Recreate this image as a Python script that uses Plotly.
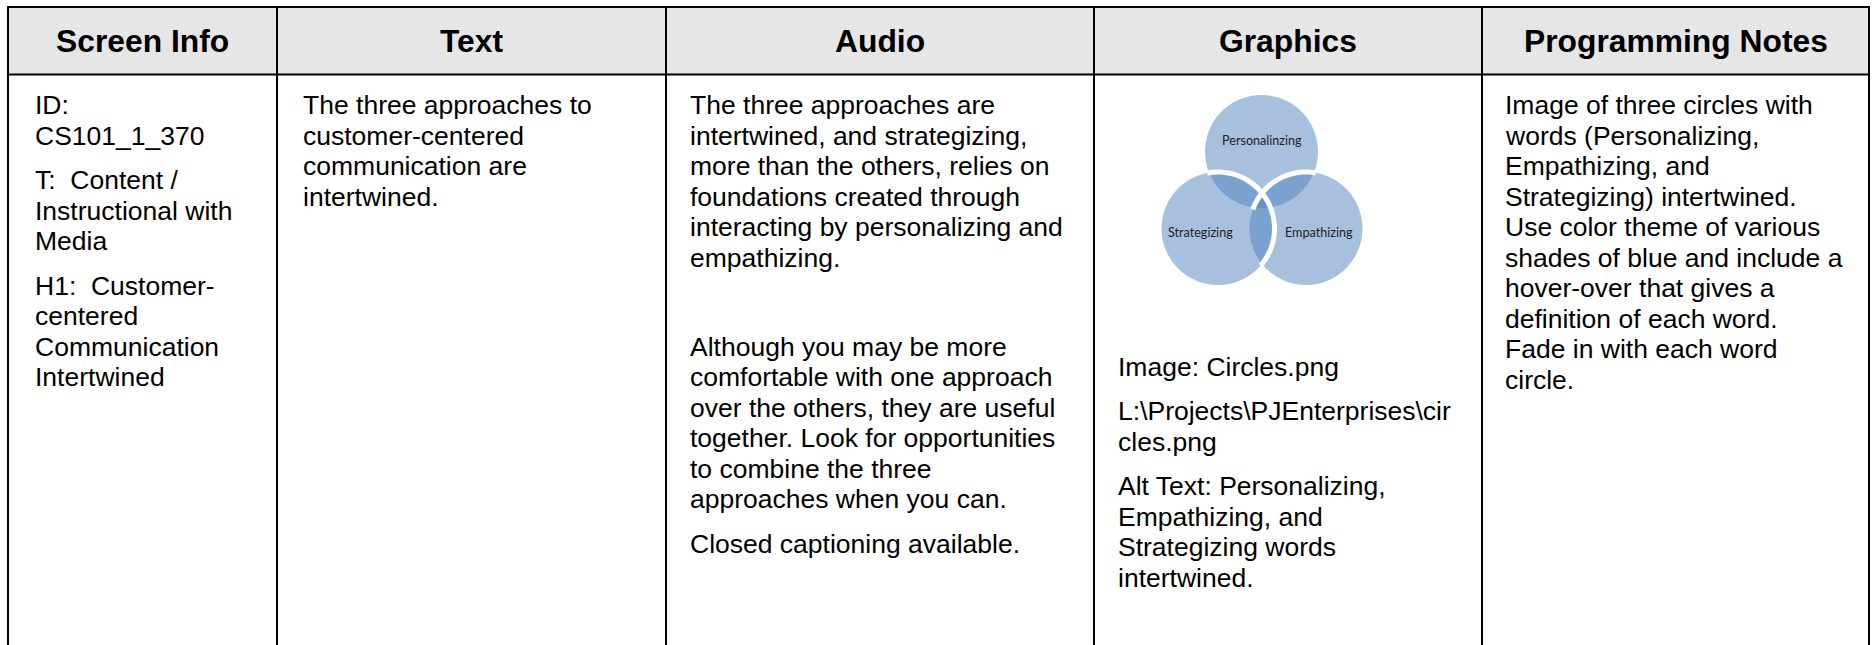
import numpy as np
import plotly.graph_objects as go

# ---------------- data ----------------
headers = ["Screen Info", "Text", "Audio", "Graphics", "Programming Notes"]

screen_info = [
    ["ID:", "CS101_1_370"],
    ["T:\u00a0 Content /", "Instructional with", "Media"],
    ["H1:\u00a0 Customer-", "centered", "Communication", "Intertwined"],
]
text_col = [
    ["The three approaches to", "customer-centered", "communication are", "intertwined."],
]
audio_col = [
    ["The three approaches are", "intertwined, and strategizing,",
     "more than the others, relies on", "foundations created through",
     "interacting by personalizing and", "empathizing."],
    [""],
    ["Although you may be more", "comfortable with one approach",
     "over the others, they are useful", "together. Look for opportunities",
     "to combine the three", "approaches when you can."],
    ["Closed captioning available."],
]
graphics_col = [
    ["Image: Circles.png"],
    ["L:\\Projects\\PJEnterprises\\cir", "cles.png"],
    ["Alt Text: Personalizing,", "Empathizing, and", "Strategizing words", "intertwined."],
]
prog_col = [
    ["Image of three circles with", "words (Personalizing,", "Empathizing, and",
     "Strategizing) intertwined.", "Use color theme of various",
     "shades of blue and include a", "hover-over that gives a",
     "definition of each word.", "Fade in with each word", "circle."],
]
venn_labels = ["Personalinzing", "Strategizing", "Empathizing"]

cells = [screen_info, text_col, audio_col, graphics_col, prog_col]

# ---------------- layout geometry ----------------
W, H = 1872, 645
col_x = [8, 277, 666, 1094, 1482, 1869]
top_y, head_y = 7, 74.5
text_pad = [25, 24, 22, 22, 21]
first_line_y = [105, 105, 105, 366.5, 105]
line_h, para_gap = 30.5, 14
body_font = dict(family="Liberation Sans, Arial, sans-serif", size=26.5, color="black")
head_font = dict(family="Liberation Sans, Arial, sans-serif", size=31.8, color="black")

fig = go.Figure()
shapes = []
annotations = []

# header fill
shapes.append(dict(type="rect", x0=col_x[0], x1=col_x[-1], y0=top_y, y1=head_y,
                   fillcolor="#E6E6E6", line=dict(width=0), layer="below"))

# Venn diagram (three interlocking circles)
r = 56.5
centers = {"top": (1261.5, 151.5), "left": (1218.0, 228.5), "right": (1306.0, 228.5)}
for key in ["top", "left", "right"]:
    cx, cy = centers[key]
    shapes.append(dict(type="circle", x0=cx - r, x1=cx + r, y0=cy - r, y1=cy + r,
                       fillcolor="rgba(79,129,189,0.5)", line=dict(width=0)))


def intersections(c1, c2, rad):
    (x1, y1), (x2, y2) = c1, c2
    d = np.hypot(x2 - x1, y2 - y1)
    a = d / 2
    h = np.sqrt(rad ** 2 - a ** 2)
    mx, my = x1 + (x2 - x1) / 2, y1 + (y2 - y1) / 2
    ux, uy = (x2 - x1) / d, (y2 - y1) / d
    return [(mx - h * uy, my + h * ux), (mx + h * uy, my - h * ux)]


def ang(c, p):
    return np.degrees(np.arctan2(p[1] - c[1], p[0] - c[0]))


def arc_path(c, rad, a0, a1, n=80):
    t = np.radians(np.linspace(a0, a1, n))
    xs = c[0] + rad * np.cos(t)
    ys = c[1] + rad * np.sin(t)
    return "M " + " L ".join(f"{x:.2f},{y:.2f}" for x, y in zip(xs, ys))


L, T, R = centers["left"], centers["top"], centers["right"]
lt = min(intersections(L, T, r), key=lambda p: p[0])
lr = max(intersections(L, R, r), key=lambda p: p[1])
a0, a1 = ang(L, lt), ang(L, lr)
shapes.append(dict(type="path", path=arc_path(L, r, a0 - 2, a1 + 2),
                   line=dict(color="white", width=5)))
rt = intersections(R, T, r)
p_low = max(rt, key=lambda p: p[1])
p_high = min(rt, key=lambda p: p[1])
b0, b1 = ang(R, p_low), ang(R, p_high)
shapes.append(dict(type="path", path=arc_path(R, r, b0 - 2, b1 + 2),
                   line=dict(color="white", width=5)))

label_pos = [(1261.5, 140), (1200, 232), (1319, 232)]
for lab, (lx, ly) in zip(venn_labels, label_pos):
    annotations.append(dict(x=lx, y=ly, text=lab, showarrow=False, xanchor="center",
                            yanchor="middle",
                            font=dict(family="Lato, sans-serif", size=12.6, color="#1f1f1f")))

# grid lines
lw = 2
shapes.append(dict(type="line", x0=col_x[0] - 1, x1=col_x[-1] + 1, y0=top_y, y1=top_y,
                   line=dict(color="black", width=lw)))
shapes.append(dict(type="line", x0=col_x[0] - 1, x1=col_x[-1] + 1, y0=head_y, y1=head_y,
                   line=dict(color="black", width=lw)))
for x in col_x:
    shapes.append(dict(type="line", x0=x, x1=x, y0=top_y - 1, y1=H + 2,
                       line=dict(color="black", width=lw)))

# headers
for i, h in enumerate(headers):
    annotations.append(dict(x=(col_x[i] + col_x[i + 1]) / 2, y=41, text=f"<b>{h}</b>",
                            showarrow=False, xanchor="center", yanchor="middle",
                            font=head_font))

# body text
for i, paras in enumerate(cells):
    y = first_line_y[i]
    for p_idx, para in enumerate(paras):
        for line in para:
            if line:
                annotations.append(dict(x=col_x[i] + text_pad[i], y=y, text=line,
                                        showarrow=False, xanchor="left", yanchor="middle",
                                        font=body_font))
            y += line_h
        y += para_gap

fig.update_layout(
    width=W, height=H, margin=dict(l=0, r=0, t=0, b=0),
    paper_bgcolor="white", plot_bgcolor="white",
    xaxis=dict(range=[0, W], visible=False, fixedrange=True),
    yaxis=dict(range=[H, 0], visible=False, fixedrange=True),
    shapes=shapes, annotations=annotations, showlegend=False,
)
fig.write_html("out.html", config={"displayModeBar": False, "staticPlot": True},
               post_script="document.body.style.margin='0';document.body.style.overflow='hidden';")
